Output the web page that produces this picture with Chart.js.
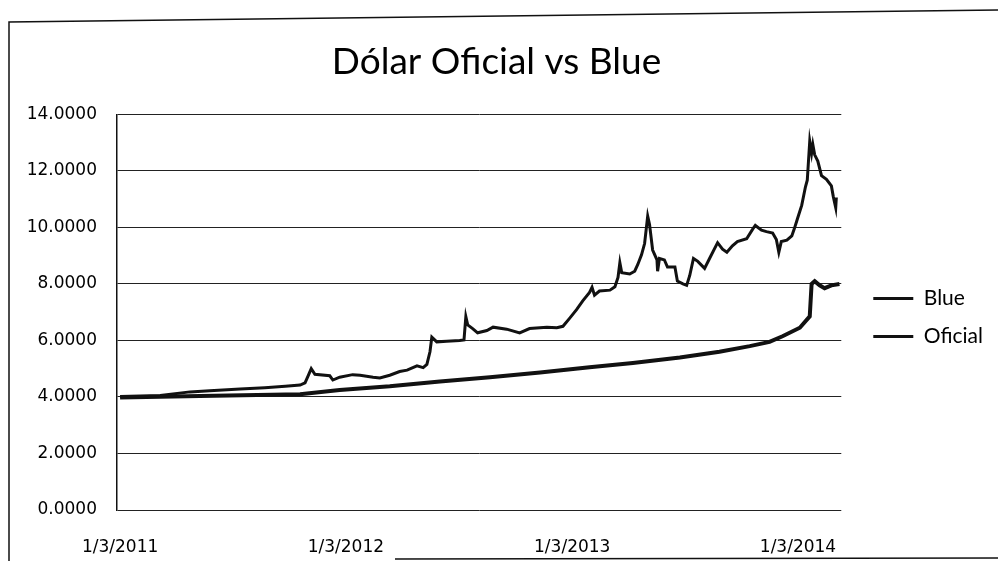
<!DOCTYPE html>
<html>
<head>
<meta charset="utf-8">
<script src="https://cdn.jsdelivr.net/npm/chart.js@4.4.1/dist/chart.umd.min.js"></script>
<style>
  html, body { margin: 0; padding: 0; background: #fff; }
  #wrap { width: 998px; height: 561px; }
</style>
</head>
<body>
<div id="wrap"><canvas id="chart"></canvas></div>
<script>
// x values are days counted from 1/3/2011
var xTickDays = [0, 365, 731, 1096];
var xTickLabels = ['1/3/2011', '1/3/2012', '1/3/2013', '1/3/2014'];
var yTicks = [0, 2, 4, 6, 8, 10, 12, 14];

var blueDays = [0, 65, 113, 145, 194, 234, 267, 291, 299, 304,
    309, 315, 339, 344, 355, 376, 388, 409, 420, 436,
    452, 464, 480, 490, 496, 501, 504, 512, 528, 549,
    556, 559, 562, 570, 578, 593, 603, 625, 646, 662,
    690, 706, 716, 727, 738, 748, 759, 763, 767, 775,
    792, 800, 805, 808, 811, 824, 832, 837, 843, 848,
    853, 856, 861, 868, 869, 872, 880, 885, 897, 901,
    910, 916, 921, 927, 934, 945, 953, 966, 974, 981,
    990, 998, 1013, 1023, 1027, 1037, 1045, 1055, 1061, 1065,
    1069, 1078, 1086, 1090, 1095, 1102, 1108, 1111, 1115, 1118,
    1120, 1123, 1128, 1134, 1142, 1150, 1153, 1157, 1158];
var blueValues = [4.02, 4.05, 4.18, 4.22, 4.28, 4.33, 4.38, 4.42, 4.5, 4.75,
    5.0, 4.8, 4.75, 4.6, 4.7, 4.79, 4.77, 4.7, 4.67, 4.77,
    4.9, 4.95, 5.1, 5.04, 5.15, 5.6, 6.12, 5.95, 5.97, 6.0,
    6.02, 6.84, 6.55, 6.42, 6.27, 6.35, 6.47, 6.4, 6.27, 6.42,
    6.47, 6.45, 6.5, 6.79, 7.09, 7.4, 7.7, 7.88, 7.6, 7.75,
    7.78, 7.9, 8.23, 8.75, 8.4, 8.35, 8.45, 8.69, 9.03, 9.43,
    10.4, 10.1, 9.2, 8.85, 8.45, 8.9, 8.85, 8.6, 8.6, 8.1,
    8.0, 7.95, 8.3, 8.9, 8.8, 8.55, 8.9, 9.46, 9.23, 9.12,
    9.35, 9.5, 9.6, 9.95, 10.07, 9.9, 9.85, 9.8, 9.57, 9.12,
    9.5, 9.55, 9.7, 9.95, 10.3, 10.78, 11.43, 11.67, 13.05, 12.63,
    12.93, 12.57, 12.35, 11.83, 11.7, 11.47, 11.1, 10.7, 11.06];

var oficialDays = [0, 129, 291, 355, 436, 517, 598, 679, 759, 829, 905, 969,
    1018, 1050, 1071, 1099, 1115, 1118, 1123, 1131, 1139, 1150, 1163];
var oficialValues = [3.98, 4.03, 4.1, 4.25, 4.38, 4.55, 4.7, 4.87, 5.05, 5.2, 5.4, 5.6,
    5.8, 5.95, 6.15, 6.45, 6.85, 8.0, 8.1, 7.95, 7.85, 7.95, 8.0];

function toPoints(days, values) {
    return days.map(function (d, i) { return { x: d, y: values[i] }; });
}

// white page + scanned frame lines
var framePlugin = {
    id: 'frame',
    beforeDraw: function (chart) {
        var c = chart.ctx;
        c.save();
        c.fillStyle = '#fff';
        c.fillRect(0, 0, chart.width, chart.height);
        c.strokeStyle = '#111';
        c.lineWidth = 1.5;
        c.beginPath();
        c.moveTo(9, 561);
        c.lineTo(9, 22);
        c.lineTo(998, 10);
        c.moveTo(395, 559);
        c.lineTo(998, 558);
        c.stroke();
        c.restore();
    }
};

var tickFont = { family: 'DejaVu Sans', size: 17 };

var ctx = document.getElementById('chart').getContext('2d');
var chart = new Chart(ctx, {
    type: 'line',
    data: {
        datasets: [{
            label: 'Blue',
            data: toPoints(blueDays, blueValues),
            borderColor: '#111',
            backgroundColor: '#111',
            borderWidth: 3,
            pointRadius: 0,
            tension: 0
        }, {
            label: 'Oficial',
            data: toPoints(oficialDays, oficialValues),
            borderColor: '#111',
            backgroundColor: '#111',
            borderWidth: 4,
            pointRadius: 0,
            tension: 0
        }]
    },
    options: {
        responsive: true,
        maintainAspectRatio: false,
        animation: false,
        layout: {
            padding: { left: 0, right: 5, top: 0, bottom: 0 }
        },
        plugins: {
            title: {
                display: true,
                text: 'Dólar Oficial vs Blue',
                color: '#000',
                font: { family: 'Lato', size: 37, weight: 'normal' },
                padding: { top: 40, bottom: 30 }
            },
            legend: {
                position: 'right',
                title: {
                    display: true,
                    text: ' ',
                    font: { size: 10 },
                    padding: { top: 0, bottom: 62 }
                },
                labels: {
                    boxWidth: 40,
                    boxHeight: 3,
                    padding: 17,
                    color: '#000',
                    font: { family: 'Lato', size: 21 },
                    generateLabels: function (chart) {
                        var items = Chart.defaults.plugins.legend.labels.generateLabels(chart);
                        items.forEach(function (it) {
                            it.lineWidth = 0;
                            it.fillStyle = '#111';
                        });
                        return items;
                    }
                }
            },
            tooltip: { enabled: false }
        },
        scales: {
            x: {
                type: 'linear',
                min: -5,
                max: 1166,
                grid: { display: false },
                border: { display: false },
                afterBuildTicks: function (axis) {
                    axis.ticks = xTickDays.map(function (d) { return { value: d }; });
                },
                afterFit: function (axis) { axis.height = 51; },
                ticks: {
                    color: '#000',
                    font: tickFont,
                    padding: 19,
                    maxRotation: 0,
                    autoSkip: false,
                    callback: function (value, index) { return xTickLabels[index]; }
                }
            },
            y: {
                min: 0,
                max: 14,
                afterBuildTicks: function (axis) {
                    axis.ticks = yTicks.map(function (v) { return { value: v }; });
                },
                afterFit: function (axis) { axis.width = 117; },
                grid: { color: '#222', lineWidth: 1, drawTicks: false },
                border: { display: true, color: '#111', width: 1.5 },
                ticks: {
                    color: '#000',
                    font: tickFont,
                    padding: 20,
                    callback: function (value) { return value.toFixed(4); }
                }
            },
            yGap: {
                type: 'linear',
                position: 'right',
                display: true,
                grid: { display: false },
                border: { display: false },
                ticks: { display: false },
                afterFit: function (axis) { axis.width = 15; }
            }
        }
    },
    plugins: [framePlugin]
});
</script>
</body>
</html>
